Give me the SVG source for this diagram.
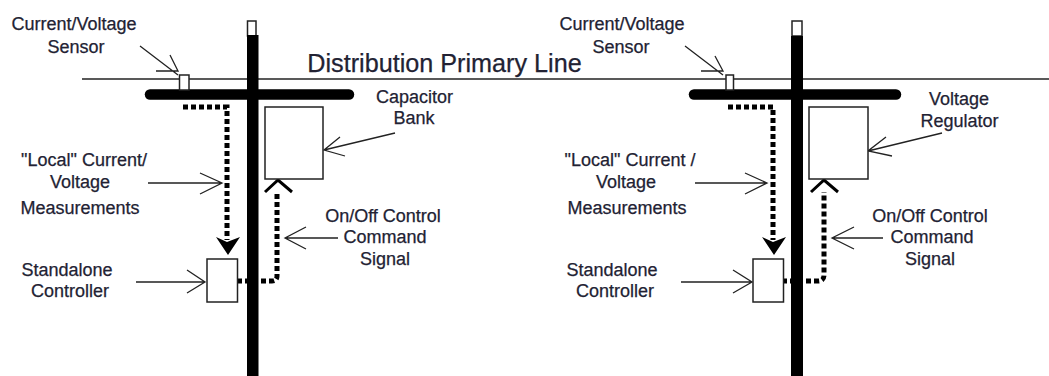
<svg xmlns="http://www.w3.org/2000/svg" width="1049" height="376" viewBox="0 0 1049 376">
<style>
text{font-family:"Liberation Sans",Arial,sans-serif;font-size:18px;fill:#222233;stroke:#222233;stroke-width:.25;text-anchor:middle}
.box{fill:#fff;stroke:#222;stroke-width:1.5}
.thin{fill:none;stroke:#222;stroke-width:1.3}
.bar{stroke:#000;stroke-width:10.5;fill:none;stroke-linecap:round}
.pole{fill:#000}
.dash{fill:none;stroke:#000;stroke-width:5;stroke-dasharray:5 3}
.head{fill:none;stroke:#000;stroke-width:3}
.tip{fill:#000}
</style>
<rect width="1049" height="376" fill="#fff"/>
<g id="primary-line">
<line x1="82" y1="79" x2="1049" y2="79" stroke="#222" stroke-width="1.4"/>
<text x="444.500" y="72" style="font-size:25.2px">Distribution Primary Line</text>
</g>
<g id="left-pole">
<rect class="box" x="247.500" y="21" width="8.500" height="15"/>
<rect class="pole" x="247" y="35" width="11.500" height="341"/>
<line class="bar" x1="150" y1="94.500" x2="349" y2="94.500"/>
</g>
<g id="right-pole">
<rect class="box" x="792" y="21" width="10" height="15"/>
<rect class="pole" x="791" y="36" width="12" height="340"/>
<line class="bar" x1="694" y1="94.500" x2="896" y2="94.500"/>
</g>
<g id="connectors">
<path class="dash" d="M183 107H227V240"/>
<path class="tip" d="M216 237L227 242L240 237L228 255Z"/>
<path class="dash" d="M237 281H272Q277 281 277 276V192"/>
<path class="head" d="M265 192L278 180L292 192"/>
<path class="dash" d="M728 107H773V240"/>
<path class="tip" d="M762 237L773 242L786 237L774 255Z"/>
<path class="dash" d="M782 281H818Q824 281 824 275V192"/>
<path class="head" d="M811 192L824 180L838 192"/>
<path class="thin" d="M140 46L178 75M156 71H178L170 55"/>
<path class="thin" d="M148 183H222M200 173L222 183L200 194"/>
<path class="thin" d="M136 282H205M187 270L205 282L187 293"/>
<path class="thin" d="M395 133L324 150M340 137L324 150L345 156"/>
<path class="thin" d="M338 238H285M306 227L285 238L306 249"/>
<path class="thin" d="M685 46L723 75M701 71H723L715 56"/>
<path class="thin" d="M695 183H767M745 173L767 183L745 194"/>
<path class="thin" d="M681 282H752M733 270L752 282L733 293"/>
<path class="thin" d="M942 133L868 151M886 137L868 151L892 156"/>
<path class="thin" d="M883 238H832M854 227L832 238L854 249"/>
</g>
<g id="left-sensor">
<rect class="box" x="179.500" y="75" width="9.500" height="15"/>
<text x="74" y="30">Current/Voltage</text>
<text x="76" y="53">Sensor</text>
</g>
<g id="left-capacitor">
<rect class="box" x="265" y="107" width="58" height="72"/>
<text x="414.500" y="103">Capacitor</text>
<text x="414" y="124">Bank</text>
</g>
<g id="left-measurements">
<text x="84" y="166">"Local" Current/</text>
<text x="80" y="188">Voltage</text>
<text x="80" y="214">Measurements</text>
</g>
<g id="left-controller">
<rect class="box" x="207" y="259" width="30.500" height="43"/>
<text x="67" y="276">Standalone</text>
<text x="70" y="297">Controller</text>
</g>
<g id="left-command">
<text x="383" y="222">On/Off Control</text>
<text x="385" y="243">Command</text>
<text x="385" y="265">Signal</text>
</g>
<g id="right-sensor">
<rect class="box" x="726" y="75" width="7.500" height="15"/>
<text x="622" y="30">Current/Voltage</text>
<text x="621" y="53">Sensor</text>
</g>
<g id="right-regulator">
<rect class="box" x="809" y="107" width="59" height="72"/>
<text x="959" y="105">Voltage</text>
<text x="959.500" y="127">Regulator</text>
</g>
<g id="right-measurements">
<text x="630" y="166">"Local" Current /</text>
<text x="626" y="188">Voltage</text>
<text x="627" y="214">Measurements</text>
</g>
<g id="right-controller">
<rect class="box" x="753" y="259" width="30.500" height="43"/>
<text x="612" y="276">Standalone</text>
<text x="615" y="297">Controller</text>
</g>
<g id="right-command">
<text x="930" y="222">On/Off Control</text>
<text x="932" y="243">Command</text>
<text x="930" y="265">Signal</text>
</g>
</svg>
